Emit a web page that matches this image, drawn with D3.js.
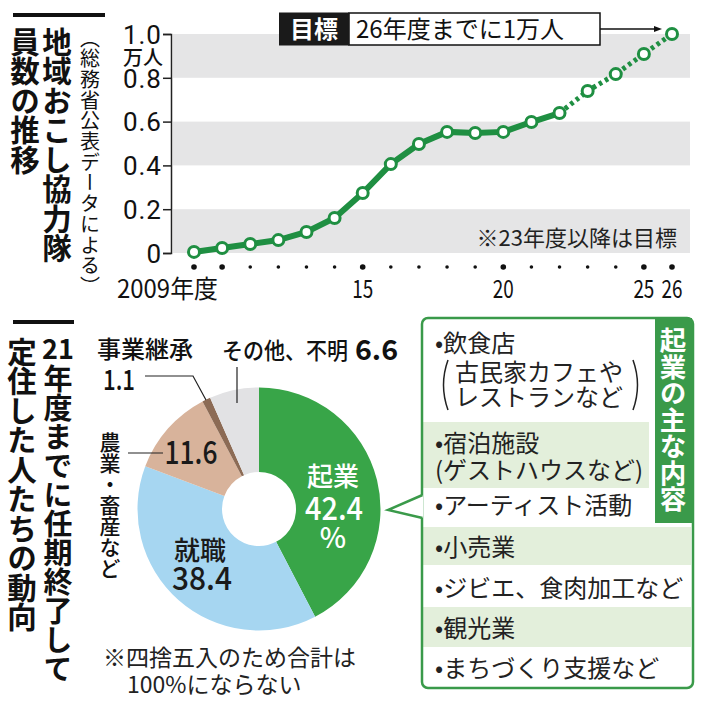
<!DOCTYPE html>
<html>
<head>
<meta charset="utf-8">
<script src="https://cdn.jsdelivr.net/npm/d3@7"></script>
<style>
  body { margin: 0; background: #fff; }
  svg { display: block; font-family: "Noto Sans CJK JP", "Noto Sans", sans-serif; }
</style>
</head>
<body>
<svg id="chart" width="702" height="702"></svg>
<script>
// --- data
const years = d3.range(2009, 2027)
const members = [0.005, 0.023, 0.041, 0.059, 0.096, 0.16, 0.274, 0.406, 0.498, 0.553, 0.548, 0.553, 0.598, 0.639, 0.74, 0.817, 0.909, 1.0]
const firstTargetYear = 2023
const yTicks = [0, 0.2, 0.4, 0.6, 0.8, 1.0]
const yTickLabels = ["0", "0.2", "0.4", "0.6", "0.8", "1.0"]
const xLabels = [[2009, "2009年度"], [2015, "15"], [2020, "20"], [2025, "25"], [2026, "26"]]
const bigDots = [2009, 2010, 2015, 2020, 2025, 2026]

const outcomeNames = ["起業", "就職", "農業・畜産など", "事業継承", "その他、不明"]
const outcomeShares = [42.4, 38.4, 11.6, 1.1, 6.6]
const outcomeColors = ["#38a548", "#a6d6f1", "#d8b39b", "#8c6b55", "#e2e2e4"]

const businessItems = [
  "•飲食店", "古民家カフェや", "レストランなど", "•宿泊施設", "(ゲストハウスなど)",
  "•アーティスト活動", "•小売業", "•ジビエ、食肉加工など", "•観光業", "•まちづくり支援など"
]

const green = "#1f8f42"
const svg = d3.select("#chart")

// vertical text helper
function vtext(x, y, str, size, opts = {}) {
  return svg.append("text")
    .attr("x", x).attr("y", y)
    .style("writing-mode", "vertical-rl")
    .attr("font-size", size)
    .attr("font-weight", opts.weight || 700)
    .attr("letter-spacing", opts.spacing || 0)
    .attr("fill", opts.fill || "#111")
    .text(str)
}

// ---------- top chart
svg.append("rect").attr("x", 13).attr("y", 13).attr("width", 92).attr("height", 4).attr("fill", "#111")
vtext(57, 27, "地域おこし協力隊", 29.5)
vtext(25, 27, "員数の推移", 29.5)
vtext(90, 28, "（総務省公表データによる）", 20, {weight: 400, spacing: 0.7})

const x = d3.scaleLinear().domain([2009, 2026]).range([194, 672])
const y = d3.scaleLinear().domain([0, 1]).range([253, 34])

// grey bands
;[[0, 0.2], [0.4, 0.6], [0.8, 1.0]].forEach(([a, b]) => {
  svg.append("rect").attr("x", 173).attr("width", 517)
    .attr("y", y(b)).attr("height", y(a) - y(b)).attr("fill", "#e5e5e6")
})

const yAxis = svg.append("g").attr("transform", "translate(171,0)")
  .call(d3.axisLeft(y).tickValues(yTicks).tickSize(8).tickFormat((d, i) => yTickLabels[i]))
yAxis.select(".domain").attr("stroke", "#222").attr("stroke-width", 1.5)
yAxis.selectAll(".tick line").attr("stroke", "#222").attr("stroke-width", 1.5)
yAxis.selectAll(".tick text").attr("font-size", 26).attr("fill", "#111")
  .attr("font-family", "Roboto, sans-serif").attr("x", -9).attr("dy", "0.36em")
  .attr("letter-spacing", 1)
svg.append("text").attr("x", 163).attr("y", 65).attr("text-anchor", "end")
  .attr("font-size", 20).attr("font-weight", 500).attr("fill", "#111").text("万人")

// x dots
svg.selectAll(".xdot").data(years).join("circle")
  .attr("cx", d => x(d)).attr("cy", 267)
  .attr("r", d => bigDots.includes(d) ? 2.8 : 1.8).attr("fill", "#111")
svg.selectAll(".xlab").data(xLabels).join("text")
  .attr("x", d => d[0] === 2009 ? x(d[0]) + 24 : x(d[0]))
  .attr("y", 298)
  .attr("text-anchor", d => d[0] === 2009 ? "end" : "middle")
  .attr("font-size", 25).attr("fill", "#111")
  .attr("textLength", d => d[0] === 2009 ? 101 : 21)
  .attr("lengthAdjust", "spacingAndGlyphs")
  .text(d => d[1])

// line
const pts = years.map((yr, i) => [yr, members[i]])
const line = d3.line().x(d => x(d[0])).y(d => y(d[1]))
svg.append("path").datum(pts.filter(d => d[0] < firstTargetYear))
  .attr("d", line).attr("fill", "none").attr("stroke", green).attr("stroke-width", 6)
svg.append("path").datum(pts.filter(d => d[0] >= firstTargetYear - 1))
  .attr("d", line).attr("fill", "none").attr("stroke", green).attr("stroke-width", 5)
  .attr("stroke-dasharray", "3.5,3.5")
svg.selectAll(".pt").data(pts).join("circle")
  .attr("cx", d => x(d[0])).attr("cy", d => y(d[1])).attr("r", 5.5)
  .attr("fill", "#fff").attr("stroke", green).attr("stroke-width", 3)

// target box
svg.append("rect").attr("x", 349).attr("y", 13).attr("width", 251).attr("height", 32)
  .attr("fill", "#fff").attr("stroke", "#111").attr("stroke-width", 1.5)
svg.append("rect").attr("x", 279).attr("y", 12.5).attr("width", 70).attr("height", 33).attr("fill", "#1a1a1a")
svg.append("text").attr("x", 314).attr("y", 38).attr("text-anchor", "middle")
  .attr("font-size", 24).attr("font-weight", 700).attr("fill", "#fff").text("目標")
svg.append("text").attr("x", 356).attr("y", 38)
  .attr("font-size", 24).attr("fill", "#111").text("26年度までに1万人")
svg.append("line").attr("x1", 600).attr("x2", 658).attr("y1", 29).attr("y2", 29)
  .attr("stroke", "#111").attr("stroke-width", 1.3)
svg.append("path").attr("d", "M662,29 L654,26 L654,32 Z").attr("fill", "#111")

svg.append("text").attr("x", 677).attr("y", 246).attr("text-anchor", "end")
  .attr("font-size", 22).attr("fill", "#222").text("※23年度以降は目標")

// ---------- bottom section
svg.append("rect").attr("x", 13).attr("y", 320).attr("width", 61).attr("height", 4).attr("fill", "#111")
svg.append("text").attr("x", 58).attr("y", 359).attr("text-anchor", "middle")
  .attr("font-size", 27).attr("font-weight", 700).attr("fill", "#111").text("21")
vtext(58, 364, "年度までに任期終了して", 29)
vtext(22, 337, "定住した人たちの動向", 29.5)

// donut
const cx = 259, cy = 509
const pie = d3.pie().sort(null).value(d => d)
const arcs = pie(outcomeShares)
const arc = d3.arc().innerRadius(37).outerRadius(121.5)
svg.append("g").attr("transform", `translate(${cx},${cy})`)
  .selectAll("path").data(arcs).join("path")
  .attr("d", arc).attr("fill", (d, i) => outcomeColors[i])

const lab = (x0, y0, t, size, fill, len) => {
  const el = svg.append("text")
    .attr("x", x0).attr("y", y0).attr("text-anchor", "middle")
    .attr("font-size", size).attr("font-weight", 500).attr("fill", fill).text(t)
  if (len) el.attr("textLength", len).attr("lengthAdjust", "spacingAndGlyphs")
  return el
}

lab(333, 486, outcomeNames[0], 26, "#fff")
lab(334, 520, outcomeShares[0].toFixed(1), 32, "#fff", 58)
lab(333, 548, "%", 28, "#fff")
lab(200, 560, outcomeNames[1], 26, "#1a1a1a")
lab(202, 590, outcomeShares[1].toFixed(1), 32, "#1a1a1a", 60)
lab(191, 464, outcomeShares[2].toFixed(1), 32, "#1a1a1a", 53)

vtext(110, 432, outcomeNames[2], 21, {weight: 500})
svg.append("line").attr("x1", 128).attr("x2", 163).attr("y1", 453).attr("y2", 453)
  .attr("stroke", "#222").attr("stroke-width", 1.2)

svg.append("text").attr("x", 97).attr("y", 358).attr("font-size", 24).attr("font-weight", 500)
  .attr("fill", "#111").text(outcomeNames[3])
svg.append("text").attr("x", 103).attr("y", 390).attr("font-size", 28).attr("font-weight", 500)
  .attr("fill", "#111").attr("textLength", 32).attr("lengthAdjust", "spacingAndGlyphs")
  .text(outcomeShares[3].toFixed(1))
svg.append("path").attr("d", "M145,376 L193,376 L206,400").attr("fill", "none")
  .attr("stroke", "#222").attr("stroke-width", 1.2)

svg.append("text").attr("x", 222).attr("y", 359).attr("font-size", 23).attr("font-weight", 500)
  .attr("fill", "#111").attr("textLength", 126).attr("lengthAdjust", "spacingAndGlyphs")
  .text(outcomeNames[4])
svg.append("text").attr("x", 355).attr("y", 360).attr("font-size", 28).attr("font-weight", 700)
  .attr("fill", "#111").attr("textLength", 43).attr("lengthAdjust", "spacingAndGlyphs")
  .text(outcomeShares[4].toFixed(1))
svg.append("line").attr("x1", 237).attr("x2", 237).attr("y1", 367).attr("y2", 403)
  .attr("stroke", "#222").attr("stroke-width", 1.2)

svg.append("text").attr("x", 103).attr("y", 666).attr("font-size", 23).attr("fill", "#222")
  .text("※四捨五入のため合計は")
svg.append("text").attr("x", 127).attr("y", 693).attr("font-size", 23).attr("fill", "#222")
  .text("100%にならない")

// callout box
const boxG = "#3a9a4a"
svg.append("rect").attr("x", 423).attr("y", 422).attr("width", 226).attr("height", 66).attr("fill", "#e3efdb")
svg.append("rect").attr("x", 423).attr("y", 527).attr("width", 268).attr("height", 38).attr("fill", "#e3efdb")
svg.append("rect").attr("x", 423).attr("y", 607).attr("width", 268).attr("height", 40).attr("fill", "#e3efdb")
svg.append("rect").attr("x", 422).attr("y", 318).attr("width", 271).attr("height", 370).attr("rx", 6)
  .attr("fill", "none").attr("stroke", boxG).attr("stroke-width", 2.5)
svg.append("path").attr("d", "M423,495 L388,510 L423,518 Z").attr("fill", "#fff")
svg.append("path").attr("d", "M422.5,495 L388,510 L422.5,518").attr("fill", "none")
  .attr("stroke", boxG).attr("stroke-width", 2.5)
svg.append("rect").attr("x", 655).attr("y", 318).attr("width", 37).attr("height", 205).attr("fill", boxG)
vtext(673, 327, "起業の主な内容", 26.5, {fill: "#fff"})

const itemY = [352, 381, 406, 452, 479, 514, 556, 597, 637, 677]
const itemX = [435, 455, 455, 435, 435, 435, 435, 435, 435, 435]
businessItems.forEach((t, i) => {
  svg.append("text").attr("x", itemX[i]).attr("y", itemY[i])
    .attr("font-size", 24).attr("fill", "#222").text(t)
})
// big parentheses
svg.append("path").attr("d", "M448,360 Q439,385 448,410").attr("fill", "none").attr("stroke", "#222").attr("stroke-width", 1.5)
svg.append("path").attr("d", "M633,360 Q642,385 633,410").attr("fill", "none").attr("stroke", "#222").attr("stroke-width", 1.5)
</script>
</body>
</html>
